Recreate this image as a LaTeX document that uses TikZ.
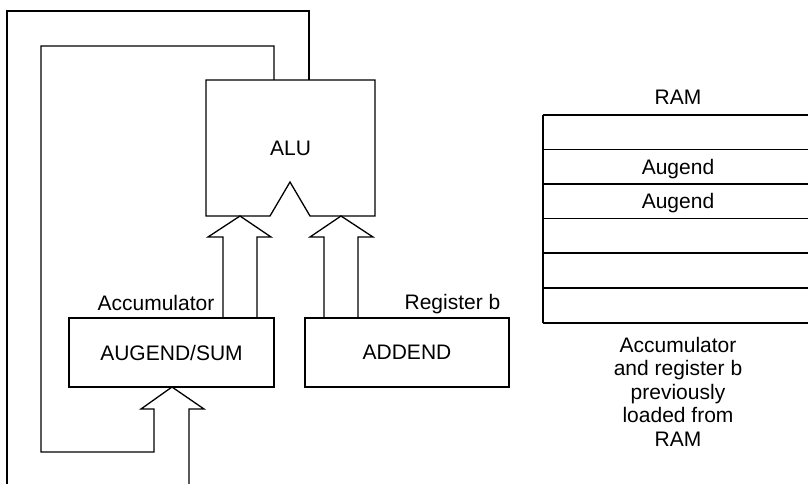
\documentclass[tikz,border=0pt]{standalone}
\usepackage{fontspec}
\setmainfont{Liberation Sans}

\begin{document}
\begin{tikzpicture}[x=1pt, y=-1pt, line width=1.3pt, font=\fontsize{21}{23.5}\selectfont]
      \useasboundingbox (0,0) rectangle (808,484);
      \tikzset{
        reg/.style={draw, minimum width=205pt, minimum height=69pt, inner sep=0pt},
        lbl/.style={anchor=base, inner sep=0pt}
      }

      % ALU with its input notch
      \draw (270,216) -- (206,216) -- (206,80) -- (375,80) -- (375,216)
        -- (310,216) -- (290,182) -- cycle;
      \node[lbl] (alu) at (290.5,155) {ALU};

      % Registers
      \node[reg] (acc) at (171.5,352.5) {AUGEND/SUM};
      \node[reg, minimum width=204pt] (addend) at (407,352.5) {ADDEND};
      \node[lbl, anchor=base east] (acclabel) at (215,310) {Accumulator};
      \node[lbl, anchor=base east] (reglabel) at (501,309.5) {Register b};

      % Bus from accumulator to ALU
      \begin{scope}[shift={(240,216)}]
        \draw (-17,102) -- (-17,21) -- (-32,21) -- (0,0) -- (31,21) -- (17,21) -- (17,102);
      \end{scope}

      % Bus from register b to ALU
      \begin{scope}[shift={(341,216)}]
        \draw (-17,102) -- (-17,21) -- (-31,21) -- (0,0) -- (32,21) -- (17,21) -- (17,102);
      \end{scope}

      % Sum fed back into the accumulator
      \begin{scope}[shift={(172,387)}]
        \draw (102,-307) -- (102,-341) -- (-131,-341) -- (-131,65) -- (-18,65)
          -- (-18,22) -- (-31,22) -- (0,0) -- (32,22) -- (17,22) -- (17,105);
      \end{scope}
      \draw (309,80) -- (309,11) -- (7,11) -- (7,490);

      % RAM
      \node[lbl] (ram) at (678,105) {RAM};
      \foreach \y in {115,149.5,184,218.5,253,288,323}
        \draw (543,\y) -- (815,\y);
      \draw (543,115) -- (543,323);
      \node[lbl] (augA) at (678,174) {Augend};
      \node[lbl] (augB) at (678,208.5) {Augend};

      \node[anchor=north, inner sep=0pt, align=center] (note) at (678,336.5)
        {Accumulator\\and register b\\previously\\loaded from\\RAM};
    \end{tikzpicture}
\end{document}
